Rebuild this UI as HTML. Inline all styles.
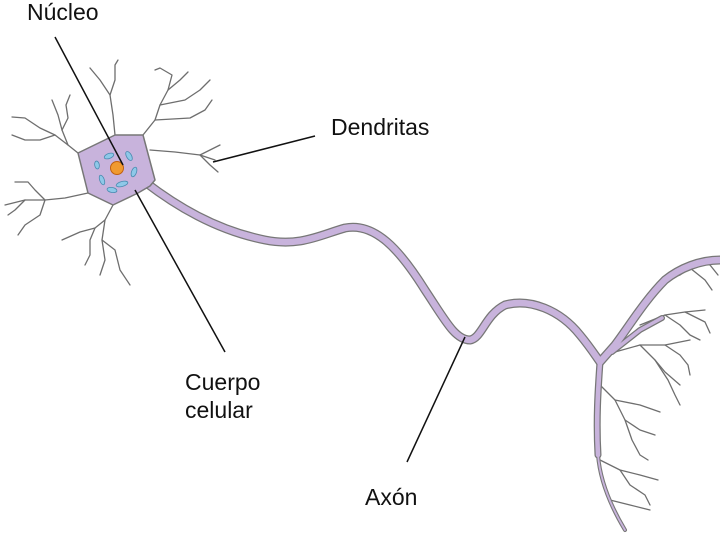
<!DOCTYPE html>
<html><head><meta charset="utf-8"><style>
html,body{margin:0;padding:0;background:#fff;}
svg{display:block}
text{font-family:"Liberation Sans",sans-serif;font-size:23px;fill:#111}
</style></head><body>
<svg width="720" height="533" viewBox="0 0 720 533" xmlns="http://www.w3.org/2000/svg">
<g fill="none" stroke="#6e6e6e" stroke-width="1.3" stroke-linecap="round" stroke-linejoin="round">
<path d="M78,153 L68,145 L55,135 L40,128 L25,118 L12,117"/>
<path d="M55,135 L40,140 L25,140 L12,135"/>
<path d="M68,145 L62,130 L58,115 L52,100"/>
<path d="M62,130 L68,118 L66,105 L70,95"/>
<path d="M115,135 L113,115 L110,95 L100,80 L90,68"/>
<path d="M110,95 L115,80 L115,65 L118,60"/>
<path d="M143,135 L155,120 L160,105 L168,90 L172,75 L160,68 L155,70"/>
<path d="M168,90 L180,80 L188,72"/>
<path d="M160,105 L185,100 L200,90 L210,80"/>
<path d="M155,120 L190,118 L205,110 L212,100"/>
<path d="M150,150 L175,152 L200,155 L215,160"/>
<path d="M200,155 L210,150 L220,145"/>
<path d="M200,155 L210,165 L218,172"/>
<path d="M88,193 L65,198 L45,200 L25,200 L5,205"/>
<path d="M45,200 L35,190 L28,182 L15,182"/>
<path d="M25,200 L15,210 L8,215"/>
<path d="M45,200 L40,215 L25,225 L18,235"/>
<path d="M113,205 L105,220 L95,228 L80,232 L62,240"/>
<path d="M95,228 L90,240 L90,255 L85,265"/>
<path d="M105,220 L102,240 L105,260 L100,275"/>
<path d="M102,240 L115,250 L120,270 L130,285"/>
<path d="M720,260 L700,262 L690,268 L680,275 L665,280"/>
<path d="M700,262 L710,265 L718,275"/>
<path d="M690,268 L705,280 L712,290"/>
<path d="M640,325 L665,315 L685,312 L705,310"/>
<path d="M665,315 L680,325 L690,335 L700,340"/>
<path d="M685,312 L705,322 L710,333"/>
<path d="M615,352 L640,345 L665,345 L690,340"/>
<path d="M640,345 L655,360 L665,372 L680,385"/>
<path d="M665,345 L680,355 L688,365 L690,375"/>
<path d="M655,360 L668,380 L675,395 L680,405"/>
<path d="M600,385 L615,400 L640,405 L660,412"/>
<path d="M615,400 L625,420 L640,430 L655,435"/>
<path d="M625,420 L632,440 L640,455 L648,460"/>
<path d="M600,460 L620,470 L640,475 L658,480"/>
<path d="M620,470 L630,485 L645,495 L650,505"/>
<path d="M610,500 L630,505 L650,510"/>
</g>
<g fill="none" stroke-linecap="round" stroke-linejoin="round">
<path d="M145,182 C175,205 215,230 265,240 C300,247 320,235 345,228 C375,222 400,250 425,290 C445,320 455,340 470,340 C482,338 485,315 505,305 C530,298 560,310 580,335 C590,347 595,355 600,362 L615,345 C630,325 645,300 665,280 C680,268 700,260 720,260" stroke="#777" stroke-width="9"/>
<path d="M600,362 C598,390 596,420 598,455" stroke="#777" stroke-width="7"/>
<path d="M598,455 C600,480 610,505 625,530" stroke="#777" stroke-width="4"/>
<path d="M612,352 L640,330 L662,318" stroke="#777" stroke-width="6"/>
<path d="M145,182 C175,205 215,230 265,240 C300,247 320,235 345,228 C375,222 400,250 425,290 C445,320 455,340 470,340 C482,338 485,315 505,305 C530,298 560,310 580,335 C590,347 595,355 600,362 L615,345 C630,325 645,300 665,280 C680,268 700,260 720,260" stroke="#c8b3dc" stroke-width="6.5"/>
<path d="M600,362 C598,390 596,420 598,455" stroke="#c8b3dc" stroke-width="4.5"/>
<path d="M598,455 C600,480 610,505 625,530" stroke="#c8b3dc" stroke-width="1.8"/>
<path d="M612,352 L640,330 L662,318" stroke="#c8b3dc" stroke-width="3.5"/>
</g>
<path d="M78,153 L115,135 L143,135 L155,180 L150,186 L138,193 L113,205 L88,193 Z" fill="#c8b3dc" stroke="#777" stroke-width="1.5" stroke-linejoin="round"/>
<g fill="#8ec8e8" stroke="#4a8ab0" stroke-width="0.8">
<ellipse cx="109" cy="156" rx="5" ry="2.5" transform="rotate(-20 109 156)"/>
<ellipse cx="129" cy="156" rx="5" ry="2.5" transform="rotate(60 129 156)"/>
<ellipse cx="134" cy="172" rx="5" ry="2.5" transform="rotate(-70 134 172)"/>
<ellipse cx="122" cy="184" rx="6" ry="2.5" transform="rotate(-15 122 184)"/>
<ellipse cx="112" cy="190" rx="5" ry="2.5" transform="rotate(10 112 190)"/>
<ellipse cx="102" cy="180" rx="5" ry="2.3" transform="rotate(70 102 180)"/>
<ellipse cx="97" cy="165" rx="4" ry="2.3" transform="rotate(80 97 165)"/>
</g>
<circle cx="117" cy="168" r="6.5" fill="#f09a30" stroke="#c06010" stroke-width="1"/>
<g stroke="#111" stroke-width="1.5">
<line x1="55" y1="37" x2="123" y2="165"/>
<line x1="315" y1="136" x2="213" y2="162"/>
<line x1="135" y1="190" x2="225" y2="352"/>
<line x1="465" y1="337" x2="407" y2="462"/>
</g>
<text x="27" y="20">Núcleo</text>
<text x="331" y="135">Dendritas</text>
<text x="185" y="390">Cuerpo</text>
<text x="185" y="418">celular</text>
<text x="365" y="505">Axón</text>
</svg>
</body></html>
